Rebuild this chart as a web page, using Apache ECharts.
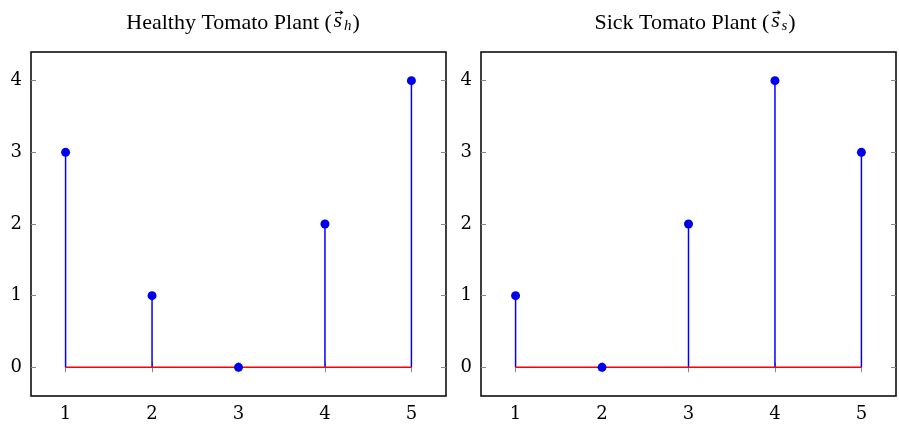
<!DOCTYPE html>
<html><head><meta charset="utf-8">
<script src="https://cdn.jsdelivr.net/npm/echarts@6/dist/echarts.min.js"></script>
<style>html,body{margin:0;padding:0;background:#fff}#c{width:899px;height:428px}</style>
</head><body><div id="c"></div>
<script>
const xValues = [1, 2, 3, 4, 5];
const healthy = [3, 1, 0, 2, 4];
const sick = [1, 0, 2, 4, 3];
const titleTexts = ['Healthy Tomato Plant', 'Sick Tomato Plant'];
const titleSubs = ['h', 's'];
const xTicks = [1, 2, 3, 4, 5];
const yTicks = [0, 1, 2, 3, 4];

const chart = echarts.init(document.getElementById('c'));
const serif = '"DejaVu Serif",serif';
const tserif = '"Liberation Serif",serif';
const grids = [
  {left: 31, top: 52, width: 415, height: 344, show: true, borderColor: '#000', borderWidth: 1.5, backgroundColor: 'transparent'},
  {left: 481, top: 52, width: 415, height: 344, show: true, borderColor: '#000', borderWidth: 1.5, backgroundColor: 'transparent'}
];
const xAxes = [], yAxes = [], series = [];
[healthy, sick].forEach((vals, g) => {
  ['bottom', 'top'].forEach((pos, k) => {
    xAxes.push({type: 'value', gridIndex: g, position: pos, min: 0.6, max: 5.4, interval: 1,
      axisLine: {show: false}, splitLine: {show: false},
      axisTick: {show: true, inside: true, length: 5, lineStyle: {color: '#888', width: 1}, customValues: xTicks},
      axisLabel: {show: k === 0, customValues: xTicks, margin: 9, color: '#000', fontSize: 18, fontFamily: serif}
    });
  });
  ['left', 'right'].forEach((pos, k) => {
    yAxes.push({type: 'value', gridIndex: g, position: pos, min: -0.4, max: 4.4,
      axisLine: {show: false}, splitLine: {show: false},
      axisTick: {show: true, inside: true, length: 5, lineStyle: {color: '#888', width: 1}, customValues: yTicks},
      axisLabel: {show: k === 0, customValues: yTicks, margin: 9, color: '#000', fontSize: 18, fontFamily: serif}
    });
  });
  const data = xValues.map((x, i) => [x, vals[i]]);
  series.push({
    type: 'custom', xAxisIndex: g * 2, yAxisIndex: g * 2, data: data, z: 2,
    renderItem: (params, api) => {
      const p0 = api.coord([api.value(0), 0]);
      const p1 = api.coord([api.value(0), api.value(1)]);
      return {type: 'line', shape: {x1: p0[0], y1: p0[1], x2: p1[0], y2: p1[1]}, style: {stroke: '#0000ff', lineWidth: 1.5}};
    }
  });
  series.push({
    type: 'line', xAxisIndex: g * 2, yAxisIndex: g * 2, z: 3,
    data: [[xValues[0], 0], [xValues[xValues.length - 1], 0]], symbol: 'none',
    lineStyle: {color: '#ff0000', width: 1.5}
  });
  series.push({
    type: 'scatter', xAxisIndex: g * 2, yAxisIndex: g * 2, z: 4, data: data,
    symbol: 'circle', symbolSize: 9, itemStyle: {color: '#0000ee', opacity: 1}
  });
});

// small arrow image used as the vector accent above "s"
function arrowImage() {
  const c = document.createElement('canvas');
  c.width = 12; c.height = 26;
  const ctx = c.getContext('2d');
  ctx.strokeStyle = '#000'; ctx.fillStyle = '#000'; ctx.lineWidth = 1.2;
  ctx.beginPath(); ctx.moveTo(3, 4.5); ctx.lineTo(10, 4.5); ctx.stroke();
  ctx.beginPath(); ctx.moveTo(11.5, 4.5); ctx.lineTo(8, 2); ctx.lineTo(8.8, 4.5); ctx.lineTo(8, 7); ctx.closePath(); ctx.fill();
  return c;
}
const arrow = arrowImage();
const rich = {
  t: {fontFamily: tserif, fontSize: 22, color: '#000', verticalAlign: 'bottom', lineHeight: 26},
  v: {fontFamily: tserif, fontStyle: 'italic', fontSize: 22, color: '#000', verticalAlign: 'bottom', lineHeight: 26,
      width: 12, height: 26, align: 'center', backgroundColor: {image: arrow}},
  sub: {fontFamily: tserif, fontStyle: 'italic', fontSize: 15, color: '#000', verticalAlign: 'bottom', lineHeight: 14, padding: [0, 1, 0, 0]}
};
function titleObj(g, cx) {
  return {text: '{t|' + titleTexts[g] + ' (}{v|s}{sub|' + titleSubs[g] + '}{t|)}', left: cx, top: 3, textAlign: 'center',
    textStyle: {rich: rich, fontWeight: 'normal'}};
}
chart.setOption({
  animation: false,
  title: [titleObj(0, 238), titleObj(1, 690)],
  grid: grids, xAxis: xAxes, yAxis: yAxes, series: series
});
</script></body></html>
